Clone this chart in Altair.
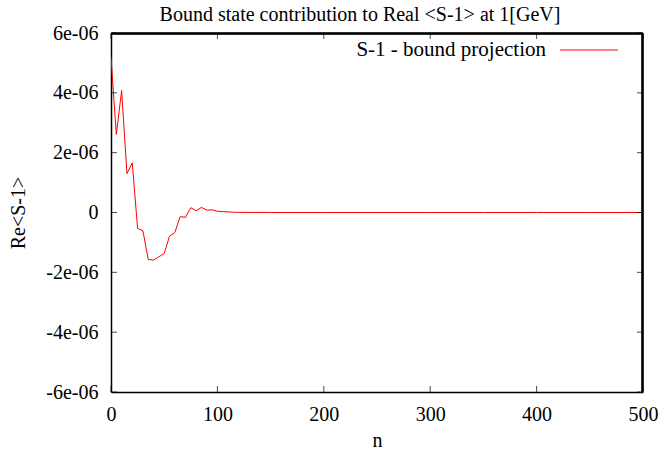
import altair as alt
import pandas as pd

n_values = [0, 5, 10, 15, 20, 25, 30, 35, 40, 45, 50, 55, 60, 65, 70, 75, 80, 85, 90, 95,
            100, 105, 110, 115, 120, 130, 150, 200, 250, 300, 350, 400, 450, 500]
re_values = [5.19e-6, 2.61e-6, 4.08e-6, 1.30e-6, 1.66e-6, -0.53e-6, -0.61e-6, -1.57e-6,
             -1.59e-6, -1.48e-6, -1.37e-6, -0.79e-6, -0.67e-6, -0.14e-6, -0.16e-6, 0.16e-6,
             0.06e-6, 0.17e-6, 0.08e-6, 0.09e-6, 0.04e-6, 0.03e-6, 0.02e-6, 0.01e-6, 0.005e-6,
             0.002e-6, 0.001e-6, 0.0, 0.0, 0.0, 0.0, 0.0, 0.0, 0.0]
x_ticks = [0, 100, 200, 300, 400, 500]
y_ticks = [-6e-6, -4e-6, -2e-6, 0.0, 2e-6, 4e-6, 6e-6]
series_name = ["S-1 - bound projection"]
title_text = ["Bound state contribution to Real <S-1> at 1[GeV]"]

W, H = 532, 359
FONT = "Liberation Serif"
FS = 20

df = pd.DataFrame({"n": n_values, "re": re_values})
xt = pd.DataFrame({"v": x_ticks})
yt = pd.DataFrame({"v": y_ticks})
leg = pd.DataFrame({"name": series_name})
ttl = pd.DataFrame({"t": title_text})

xscale = alt.Scale(domain=[0, 500], nice=False, zero=False)
yscale = alt.Scale(domain=[-6e-6, 6e-6], nice=False, zero=False)

label_expr = "datum.value == 0 ? '0' : ((datum.value < 0 ? '-' : '') + round(abs(datum.value) * 1e6) + 'e-06')"

line = alt.Chart(df).mark_line(color="#ff0000", strokeWidth=1, clip=True).encode(
    x=alt.X("n:Q", scale=xscale,
            axis=alt.Axis(values=x_ticks, title="n", grid=False, ticks=False,
                          domain=True, domainColor="black", domainWidth=1.5,
                          labelFlush=False,
                          labelFont=FONT, labelFontSize=FS, labelColor="black", labelPadding=12,
                          titleFont=FONT, titleFontSize=FS, titleFontWeight="normal",
                          titleColor="black", titleY=54, titleBaseline="alphabetic")),
    y=alt.Y("re:Q", scale=yscale,
            axis=alt.Axis(values=y_ticks, title="Re<S-1>", grid=False, ticks=False,
                          domain=True, domainColor="black", domainWidth=1.5,
                          labelExpr=label_expr, labelFlush=False,
                          labelFont=FONT, labelFontSize=FS, labelColor="black", labelPadding=13,
                          titleFont=FONT, titleFontSize=FS, titleFontWeight="normal",
                          titleColor="black", titleX=-93, titleY=H / 2,
                          titleAlign="center", titleBaseline="middle", titleAngle=-90)),
)

frame_top = alt.Chart(xt).mark_rule(color="black", strokeWidth=1.5).encode(
    x=alt.value(0.5), x2=alt.value(W - 0.5), y=alt.value(0.5))
frame_right = alt.Chart(xt).mark_rule(color="black", strokeWidth=1.5).encode(
    y=alt.value(0.5), y2=alt.value(H - 0.5), x=alt.value(W - 0.5))

tb = alt.Chart(xt).mark_tick(orient="vertical", size=6, thickness=1, color="black").encode(
    x=alt.X("v:Q", scale=xscale), y=alt.value(H - 3))
tt = alt.Chart(xt).mark_tick(orient="vertical", size=6, thickness=1, color="black").encode(
    x=alt.X("v:Q", scale=xscale), y=alt.value(3))
tl = alt.Chart(yt).mark_tick(orient="horizontal", size=6, thickness=1, color="black").encode(
    y=alt.Y("v:Q", scale=yscale), x=alt.value(3))
tr = alt.Chart(yt).mark_tick(orient="horizontal", size=6, thickness=1, color="black").encode(
    y=alt.Y("v:Q", scale=yscale), x=alt.value(W - 3))

leg_text = alt.Chart(leg).mark_text(align="right", baseline="middle", font=FONT,
                                    fontSize=21, color="black").encode(
    text="name:N", x=alt.value(435), y=alt.value(17))
leg_line = alt.Chart(leg).mark_rule(color="#ff0000", strokeWidth=1).encode(
    x=alt.value(449), x2=alt.value(507), y=alt.value(17))

title_mark = alt.Chart(ttl).mark_text(align="center", baseline="middle", font=FONT,
                                      fontSize=FS, color="black").encode(
    text="t:N", x=alt.value(249), y=alt.value(-18))

chart = alt.layer(line, frame_top, frame_right,
                  tb, tt, tl, tr, leg_text, leg_line, title_mark).properties(
    width=W, height=H,
    autosize=alt.AutoSizeParams(type="none"),
    padding={"left": 111, "top": 33, "right": 17, "bottom": 63},
).configure(background="white").configure_view(stroke=None)

chart.save("out.html", embed_options={"renderer": "svg", "actions": False})
